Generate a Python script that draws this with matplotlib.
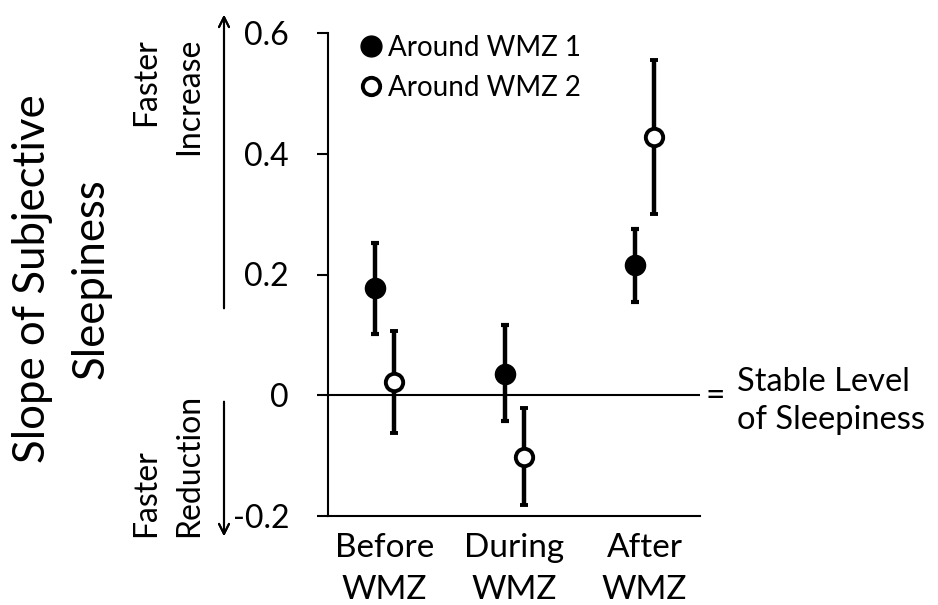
import numpy as np
import matplotlib
matplotlib.use("Agg")
import matplotlib.pyplot as plt
from matplotlib.lines import Line2D

plt.rcParams['font.family'] = ['Lato', 'DejaVu Sans']

# data
categories = ['Before\nWMZ', 'During\nWMZ', 'After\nWMZ']
wmz1_mean = [0.177, 0.036, 0.215]
wmz1_low = [0.102, -0.043, 0.154]
wmz1_high = [0.253, 0.116, 0.276]
wmz2_mean = [0.0215, -0.102, 0.428]
wmz2_low = [-0.062, -0.1815, 0.301]
wmz2_high = [0.106, -0.0215, 0.555]
yticks = [-0.2, 0, 0.2, 0.4, 0.6]
ytick_labels = ['-0.2', '0', '0.2', '0.4', '0.6']

W, H = 938, 605
fig = plt.figure(figsize=(W / 100, H / 100), dpi=100, facecolor='white')
ax = fig.add_axes([328 / W, 1 - 516 / H, (700 - 328) / W, (516 - 33) / H])

x = np.arange(len(categories))
off = 0.075

def err(mean, low, high):
    mean = np.array(mean)
    return np.vstack([mean - np.array(low), np.array(high) - mean])

ax.axhline(0, color='black', lw=1.5, zorder=1)
ax.errorbar(x - off, wmz1_mean, yerr=err(wmz1_mean, wmz1_low, wmz1_high),
            fmt='o', color='black', ms=14.5, elinewidth=3.2, capsize=3, capthick=3,
            zorder=3)
ax.errorbar(x + off, wmz2_mean, yerr=err(wmz2_mean, wmz2_low, wmz2_high),
            fmt='o', color='black', mfc='white', mec='black', mew=2.8, ms=12.5,
            elinewidth=3.2, capsize=3, capthick=3, zorder=3)

ax.set_xlim(-0.435, 2.427)
ax.set_ylim(-0.2, 0.6)
ax.set_yticks(yticks)
ax.set_yticklabels(ytick_labels)
ax.set_xticks(x)
ax.set_xticklabels(categories, linespacing=1.5)
ax.tick_params(axis='y', length=8, width=1.5, labelsize=23, pad=20)
ax.tick_params(axis='x', length=0, labelsize=24, pad=12)
for s in ['top', 'right']:
    ax.spines[s].set_visible(False)
for s in ['left', 'bottom']:
    ax.spines[s].set_linewidth(1.5)

handles = [
    Line2D([], [], ls='none', marker='o', color='black', ms=15),
    Line2D([], [], ls='none', marker='o', mfc='white', mec='black', mew=2.8, ms=12.5),
]
ax.legend(handles, ['Around WMZ 1', 'Around WMZ 2'], frameon=False, fontsize=20,
          handlelength=0.6, handletextpad=0.3, labelspacing=0.5,
          loc='upper left', bbox_to_anchor=(363 / W, 1 - 35 / H),
          bbox_transform=fig.transFigure, borderpad=0, borderaxespad=0)

def fx(px):
    return px / W

def fy(py):
    return 1 - py / H

# y label
fig.text(fx(62), fy(279), 'Slope of Subjective\nSleepiness', rotation=90,
         ha='center', va='center', fontsize=31.5, linespacing=1.55)

# direction arrows
fig.add_artist(plt.annotate('', xy=(fx(224), fy(12)), xytext=(fx(224), fy(311)),
                            xycoords='figure fraction', textcoords='figure fraction',
                            arrowprops=dict(arrowstyle='->', lw=1.5, color='black',
                                            mutation_scale=18)))
fig.add_artist(plt.annotate('', xy=(fx(224), fy(539)), xytext=(fx(224), fy(399)),
                            xycoords='figure fraction', textcoords='figure fraction',
                            arrowprops=dict(arrowstyle='->', lw=1.5, color='black',
                                            mutation_scale=18)))

fig.text(fx(168), fy(38), 'Faster\nIncrease', rotation=90, ha='center', va='top',
         multialignment='right', fontsize=23, linespacing=1.55)
fig.text(fx(168), fy(537), 'Faster\nReduction', rotation=90, ha='center', va='bottom',
         multialignment='left', fontsize=23, linespacing=1.55)

# right side annotation
fig.text(fx(705), fy(396), '=', ha='left', va='center', fontsize=24)
fig.text(fx(737), fy(401), 'Stable Level\nof Sleepiness', ha='left', va='center',
         fontsize=23.5, linespacing=1.3)

fig.savefig('out.png', dpi=100, facecolor='white')
